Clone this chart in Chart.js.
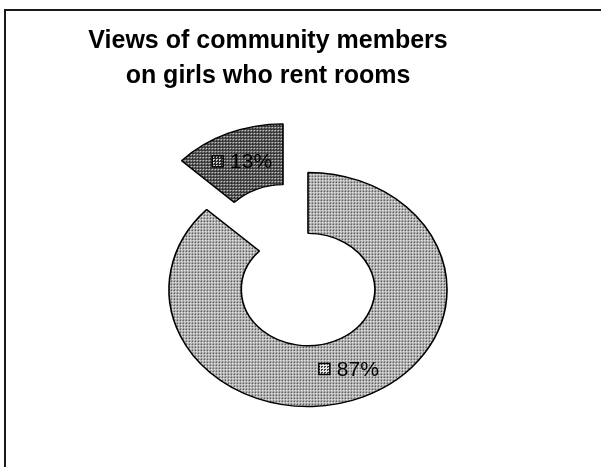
<!DOCTYPE html>
<html>
<head>
<meta charset="utf-8">
<title>Views of community members on girls who rent rooms</title>
<script src="https://cdn.jsdelivr.net/npm/chart.js@4.4.1/dist/chart.umd.min.js"></script>
<style>
    html, body { margin: 0; padding: 0; background: #fff; }
    #wrap { width: 601px; height: 467px; position: relative; }
</style>
</head>
<body>
<div id="wrap"><canvas id="viewsChart"></canvas></div>
<script>
// Chart data
const titleLines = ['Views of community members', 'on girls who rent rooms'];
const categories = ['Series 1', 'Series 2'];
const sliceValues = [87, 13];
const explodedSlice = 1;

// Where the (slightly squashed) ring sits on the page
const RING = { x: 308, y: 289.5, rx: 139, ry: 117, explode: 63 };
const FONT = '"Liberation Sans", Arial, Helvetica, sans-serif';

// Halftone fills like the old printed chart: 3px tile, an L of 3 "ink" pixels
function makeDots(bg, ink) {
    const tile = document.createElement('canvas');
    tile.width = 3;
    tile.height = 3;
    const g = tile.getContext('2d');
    g.fillStyle = bg;
    g.fillRect(0, 0, 3, 3);
    g.fillStyle = ink;
    g.fillRect(0, 0, 2, 1);
    g.fillRect(0, 1, 1, 1);
    return g.createPattern(tile, 'repeat');
}
const lightFill = makeDots('#e6e6e6', '#3a3a3a');
const darkFill = makeDots('#282828', '#d0d0d0');
const sliceFills = [lightFill, darkFill];

function ringScale(chart) {
    const first = chart.getDatasetMeta(0).data[0];
    const r0 = first.outerRadius;
    return { sx: RING.rx / r0, sy: RING.ry / r0, push: RING.explode / RING.rx * r0 };
}

const ringPlugin = {
    id: 'ringPlugin',
    beforeDraw(chart) {
        const ctx = chart.ctx;
        ctx.save();
        ctx.fillStyle = '#fff';
        ctx.fillRect(0, 0, chart.width, chart.height);
        // chart frame (right/bottom edges fall off the picture)
        ctx.strokeStyle = '#1a1a1a';
        ctx.lineWidth = 2;
        ctx.strokeRect(5, 10, chart.width + 10, chart.height + 10);
        ctx.restore();
    },
    beforeDatasetsDraw(chart) {
        const ctx = chart.ctx;
        const meta = chart.getDatasetMeta(0);
        const { sx, sy, push } = ringScale(chart);
        sliceFills.forEach(p => p.setTransform(new DOMMatrix([1 / sx, 0, 0, 1 / sy, 0, 0])));

        meta.data.forEach((arc, i) => {
            ctx.save();
            ctx.translate(RING.x, RING.y);
            ctx.scale(sx, sy);
            ctx.translate(-arc.x, -arc.y);
            if (i === explodedSlice) {
                const half = (arc.startAngle + arc.endAngle) / 2;
                ctx.translate(Math.cos(half) * push, Math.sin(half) * push);
            }
            arc.draw(ctx);
            ctx.restore();
        });
        return false;
    },
    afterDraw(chart) {
        const ctx = chart.ctx;
        const meta = chart.getDatasetMeta(0);
        const { sx, sy, push } = ringScale(chart);
        const total = sliceValues.reduce((a, b) => a + b, 0);
        sliceFills.forEach(p => p.setTransform(new DOMMatrix()));

        ctx.save();
        ctx.font = '21px ' + FONT;
        ctx.textBaseline = 'middle';
        ctx.textAlign = 'left';
        meta.data.forEach((arc, i) => {
            const half = (arc.startAngle + arc.endAngle) / 2;
            let hr = (arc.innerRadius + arc.outerRadius) / 2;
            if (i === explodedSlice) hr += push;
            const px = RING.x + Math.cos(half) * hr * sx;
            const py = RING.y + Math.sin(half) * hr * sy;

            const text = Math.round(sliceValues[i] / total * 100) + '%';
            const tw = ctx.measureText(text).width;
            const box = 11, gap = 7;
            const left = px - (box + gap + tw) / 2;

            ctx.fillStyle = sliceFills[i];
            ctx.fillRect(left, py - box / 2, box, box);
            ctx.strokeStyle = '#000';
            ctx.lineWidth = 1.5;
            ctx.strokeRect(left, py - box / 2, box, box);

            ctx.fillStyle = '#000';
            ctx.fillText(text, left + box + gap, py + 1);
        });
        ctx.restore();
    }
};

const viewsChart = new Chart(document.getElementById('viewsChart'), {
    type: 'doughnut',
    data: {
        labels: categories,
        datasets: [{
            data: sliceValues,
            backgroundColor: sliceFills,
            borderColor: '#000',
            borderWidth: 2
        }]
    },
    options: {
        responsive: true,
        maintainAspectRatio: false,
        animation: false,
        cutout: '48%',
        layout: { padding: { left: 0, right: 65, top: 0, bottom: 20 } },
        plugins: {
            legend: { display: false },
            tooltip: { enabled: false },
            title: {
                display: true,
                text: titleLines,
                color: '#000',
                padding: { top: 24, bottom: 10 },
                font: { family: FONT, size: 25, weight: 'bold', lineHeight: 1.4 }
            }
        }
    },
    plugins: [ringPlugin]
});
</script>
</body>
</html>
